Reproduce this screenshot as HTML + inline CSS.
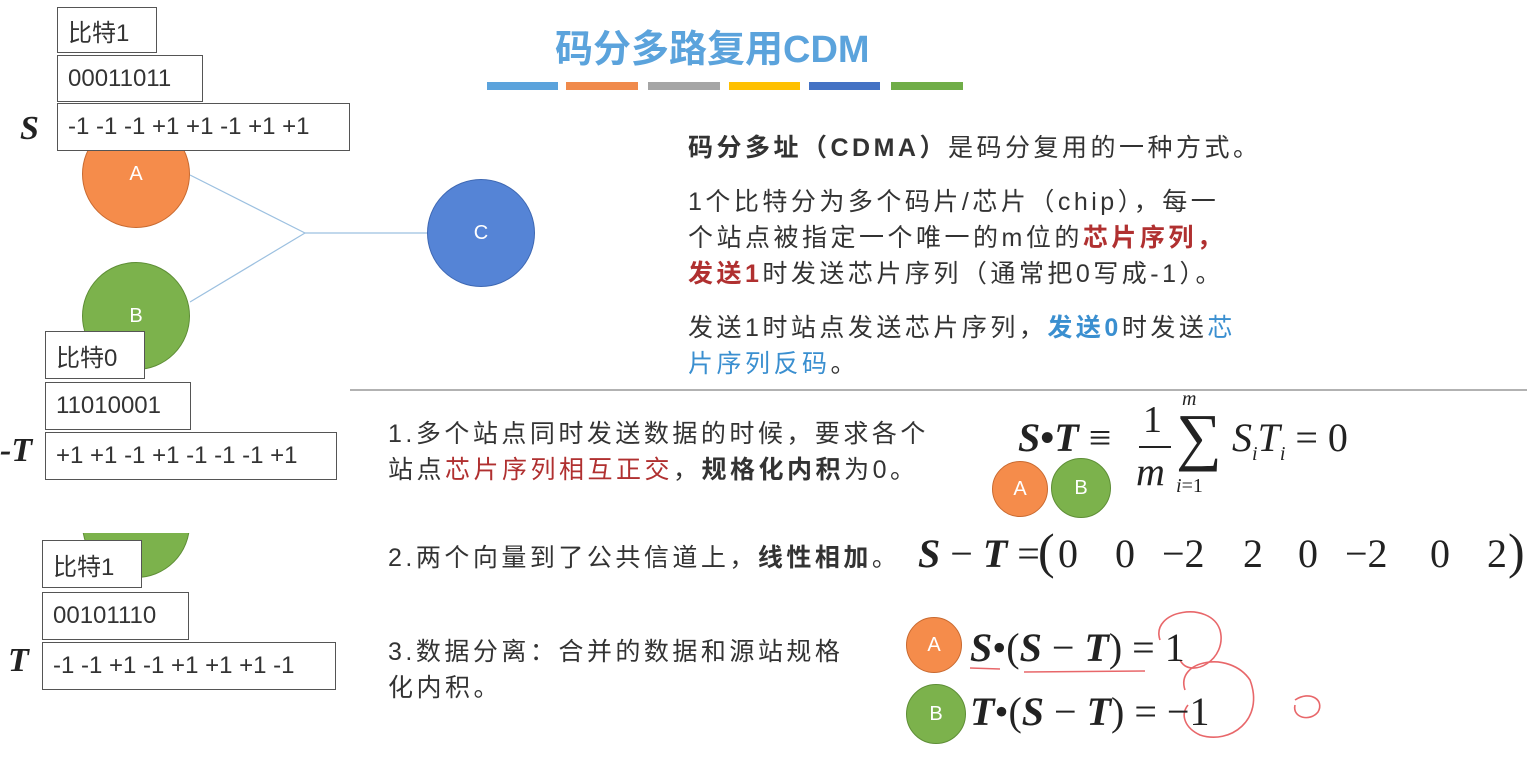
<!DOCTYPE html>
<html><head><meta charset="utf-8"><style>
*{margin:0;padding:0;box-sizing:border-box}
body{width:1527px;height:766px;background:#fff;position:relative;overflow:hidden;font-family:"Liberation Sans","Noto Sans CJK SC",sans-serif;color:#333}
.a{position:absolute;white-space:nowrap}
.box{position:absolute;border:1px solid #555;background:#fff;font-size:24px;padding-left:10px;display:flex;align-items:center;color:#333}
.c{position:absolute;border-radius:50%;color:#fff;font-size:20px;display:flex;align-items:center;justify-content:center}
.or{background:#f58c4b;border:1px solid #c96a30}
.gr{background:#7cb24c;border:1px solid #5e8e36}
.bl{background:#5584d6;border:1px solid #3e68b3}
.m{font-family:"Liberation Serif",serif;color:#222}
.t{font-size:25px;color:#333;letter-spacing:3.5px}
.red{color:#b03030}
.blu{color:#3a8fd0}
</style></head><body>
<svg class="a" style="left:0;top:0" width="1527" height="766">
<line x1="190" y1="175" x2="305" y2="233" stroke="#9cc0e0" stroke-width="1.2"/>
<line x1="190" y1="302" x2="305" y2="233" stroke="#9cc0e0" stroke-width="1.2"/>
<line x1="305" y1="233" x2="428" y2="233" stroke="#9cc0e0" stroke-width="1.2"/>
<line x1="350" y1="390" x2="1527" y2="390" stroke="#999" stroke-width="1.5"/>
<rect x="487" y="82" width="71" height="8" fill="#5ba3dc"/>
<rect x="566" y="82" width="72" height="8" fill="#f08a4b"/>
<rect x="648" y="82" width="72" height="8" fill="#a5a5a5"/>
<rect x="729" y="82" width="71" height="8" fill="#ffc000"/>
<rect x="809" y="82" width="71" height="8" fill="#4472c4"/>
<rect x="891" y="82" width="72" height="8" fill="#70ad47"/>
<g fill="none" stroke="#e8676a" stroke-width="1.6">
<path d="M1160 640 C1150 610 1210 600 1220 630 C1228 660 1190 680 1180 660"/>
<path d="M1185 690 C1175 660 1230 650 1250 680 C1265 720 1230 745 1200 735 C1185 728 1180 715 1188 705"/>
<path d="M1295 700 C1310 690 1325 700 1318 712 C1310 722 1292 718 1295 705"/>
<path d="M970 668 L1000 669"/><path d="M1024 672 L1145 671"/>
</g>
</svg>
<div class="a" style="left:555px;top:18px;font-size:38px;font-weight:bold;color:#5ba3dc">码分多路复用CDM</div>

<div class="c or" style="left:82px;top:120px;width:108px;height:108px">A</div>
<div class="c gr" style="left:82px;top:262px;width:108px;height:108px">B</div>
<div class="c bl" style="left:427px;top:179px;width:108px;height:108px">C</div>
<div class="c gr" style="left:82px;top:470px;width:108px;height:108px;clip-path:inset(63px 0 0 0)"></div>

<div class="box" style="left:57px;top:7px;width:100px;height:46px">比特1</div>
<div class="box" style="left:57px;top:55px;width:146px;height:47px">00011011</div>
<div class="box" style="left:57px;top:103px;width:293px;height:48px">-1 -1 -1 +1 +1 -1 +1 +1</div>
<div class="a m" style="left:20px;top:110px;font-size:34px;font-weight:bold;font-style:italic">S</div>

<div class="box" style="left:45px;top:331px;width:100px;height:48px">比特0</div>
<div class="box" style="left:45px;top:382px;width:146px;height:48px">11010001</div>
<div class="box" style="left:45px;top:432px;width:292px;height:48px">+1 +1 -1 +1 -1 -1 -1 +1</div>
<div class="a m" style="left:0;top:432px;font-size:34px;font-weight:bold;font-style:italic">-T</div>

<div class="box" style="left:42px;top:540px;width:100px;height:48px">比特1</div>
<div class="box" style="left:42px;top:592px;width:147px;height:48px">00101110</div>
<div class="box" style="left:42px;top:642px;width:294px;height:48px">-1 -1 +1 -1 +1 +1 +1 -1</div>
<div class="a m" style="left:8px;top:642px;font-size:34px;font-weight:bold;font-style:italic">T</div>

<div class="a t" style="left:688px;top:128px"><b>码分多址（CDMA）</b>是码分复用的一种方式。</div>
<div class="a t" style="left:688px;top:184px;line-height:36px">1个比特分为多个码片/芯片（chip），每一<br>个站点被指定一个唯一的m位的<b class="red">芯片序列，</b><br><b class="red">发送1</b>时发送芯片序列（通常把0写成-1）。</div>
<div class="a t" style="left:688px;top:310px;line-height:36px">发送1时站点发送芯片序列，<b class="blu">发送0</b>时发送<span class="blu">芯</span><br><span class="blu">片序列反码</span>。</div>

<div class="a t" style="left:388px;top:416px;line-height:36px">1.多个站点同时发送数据的时候，要求各个<br>站点<span class="red">芯片序列相互正交</span>，<b>规格化内积</b>为0。</div>
<div class="a t" style="left:388px;top:538px">2.两个向量到了公共信道上，<b>线性相加</b>。</div>
<div class="a t" style="left:388px;top:634px;line-height:36px">3.数据分离：合并的数据和源站规格<br>化内积。</div>

<div class="a m" style="left:1018px;top:414px;font-size:40px"><b><i>S</i>•<i>T</i></b> ≡</div>
<div class="a m" style="left:1143px;top:398px;font-size:38px">1</div>
<div class="a" style="left:1139px;top:446px;width:32px;height:2px;background:#222"></div>
<div class="a m" style="left:1136px;top:448px;font-size:40px;font-style:italic">m</div>
<div class="a m" style="left:1182px;top:388px;font-size:20px;font-style:italic">m</div>
<div class="a m" style="left:1176px;top:400px;font-size:64px">∑</div>
<div class="a m" style="left:1176px;top:475px;font-size:20px"><i>i</i>=1</div>
<div class="a m" style="left:1232px;top:414px;font-size:40px;font-style:italic">S<sub style="font-size:20px">i</sub>T<sub style="font-size:20px">i</sub> <span style="font-style:normal">= 0</span></div>
<div class="c or" style="left:992px;top:461px;width:56px;height:56px">A</div>
<div class="c gr" style="left:1051px;top:458px;width:60px;height:60px">B</div>

<div class="a m" style="left:918px;top:530px;font-size:40px"><b><i>S</i></b> − <b><i>T</i></b> =</div>
<div class="a m" style="left:1038px;top:522px;font-size:50px">(</div>
<div class="a m" style="left:1058px;top:530px;font-size:40px">0</div>
<div class="a m" style="left:1115px;top:530px;font-size:40px">0</div>
<div class="a m" style="left:1162px;top:530px;font-size:40px">−2</div>
<div class="a m" style="left:1243px;top:530px;font-size:40px">2</div>
<div class="a m" style="left:1298px;top:530px;font-size:40px">0</div>
<div class="a m" style="left:1345px;top:530px;font-size:40px">−2</div>
<div class="a m" style="left:1430px;top:530px;font-size:40px">0</div>
<div class="a m" style="left:1487px;top:530px;font-size:40px">2</div>
<div class="a m" style="left:1508px;top:522px;font-size:50px">)</div>

<div class="c or" style="left:906px;top:617px;width:56px;height:56px">A</div>
<div class="c gr" style="left:906px;top:684px;width:60px;height:60px">B</div>
<div class="a m" style="left:970px;top:624px;font-size:40px"><b><i>S</i></b>•(<b><i>S</i></b> − <b><i>T</i></b>) = 1</div>
<div class="a m" style="left:970px;top:688px;font-size:40px"><b><i>T</i></b>•(<b><i>S</i></b> − <b><i>T</i></b>) = −1</div>
</body></html>
